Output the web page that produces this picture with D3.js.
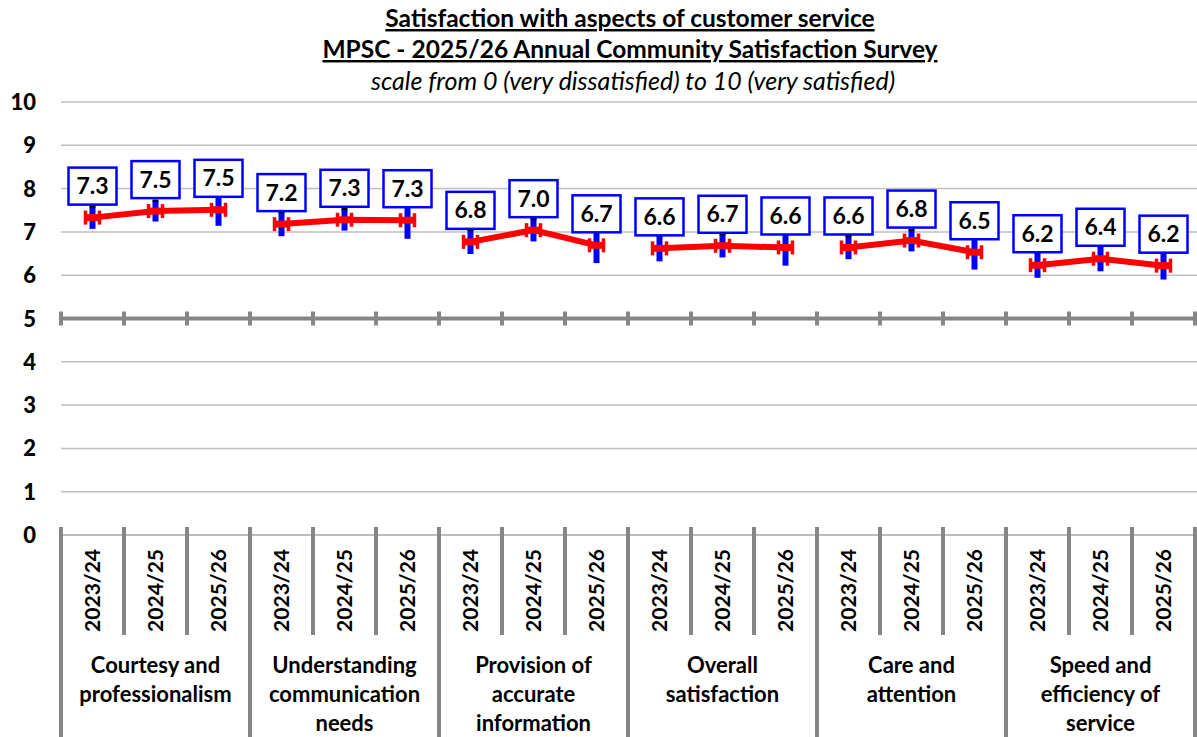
<!DOCTYPE html>
<html>
<head>
<meta charset="utf-8">
<script src="https://cdn.jsdelivr.net/npm/d3@7"></script>
<style>
  body { margin: 0; background: #fff; }
  text { font-family: Lato, "Open Sans", sans-serif; }
</style>
</head>
<body>
<div id="chart"></div>
<script>
// categories and periods
var groups = ["Courtesy and professionalism", "Understanding communication needs",
    "Provision of accurate information", "Overall satisfaction",
    "Care and attention", "Speed and efficiency of service"];
var groupLines = [["Courtesy and", "professionalism"],
    ["Understanding", "communication", "needs"],
    ["Provision of", "accurate", "information"],
    ["Overall", "satisfaction"],
    ["Care and", "attention"],
    ["Speed and", "efficiency of", "service"]];
var years = ["2023/24", "2024/25", "2025/26"];

// index scores, one row per group, one value per year
var scores = [
    [7.33, 7.48, 7.51],
    [7.18, 7.28, 7.27],
    [6.77, 7.04, 6.69],
    [6.62, 6.68, 6.64],
    [6.64, 6.80, 6.53],
    [6.23, 6.38, 6.22]];
// 95% confidence interval
var ciLow = [
    [7.07, 7.24, 7.14],
    [6.90, 7.03, 6.84],
    [6.49, 6.78, 6.28],
    [6.32, 6.41, 6.22],
    [6.37, 6.55, 6.13],
    [5.94, 6.09, 5.90]];
var ciHigh = [
    [7.59, 7.72, 7.88],
    [7.46, 7.53, 7.70],
    [7.05, 7.30, 7.10],
    [6.92, 6.95, 7.06],
    [6.91, 7.05, 6.93],
    [6.52, 6.67, 6.54]];
var yTicks = [0, 1, 2, 3, 4, 5, 6, 7, 8, 9, 10];

var W = 1197, H = 737;
var margin = {top: 102, left: 61, right: 2, bottom: 202};

var svg = d3.select("#chart").append("svg")
    .attr("width", W)
    .attr("height", H);

// flatten to slots
var slots = [];
groups.forEach(function(g, gi) {
    years.forEach(function(yr, yi) {
        slots.push({key: gi + "_" + yi, g: gi, year: yr, v: scores[gi][yi],
            lo: ciLow[gi][yi], hi: ciHigh[gi][yi]});
    });
});

var x = d3.scaleBand()
    .domain(slots.map(function(d) { return d.key; }))
    .range([margin.left, W - margin.right])
    .padding(0);
var y = d3.scaleLinear()
    .domain([0, 10])
    .range([H - margin.bottom, margin.top]);
var bw = x.bandwidth();
var grey = "#868686";

// gridlines
svg.append("g").selectAll("line")
    .data(yTicks.filter(function(t) { return t != 5 && t != 0; }))
    .join("line")
    .attr("x1", margin.left).attr("x2", W)
    .attr("y1", function(d) { return y(d); })
    .attr("y2", function(d) { return y(d); })
    .attr("stroke", "#c0c0c0")
    .attr("stroke-width", 1.5);

// y labels
svg.append("g").selectAll("text")
    .data(yTicks)
    .join("text")
    .attr("x", 36)
    .attr("y", function(d) { return y(d) + 8; })
    .attr("text-anchor", "end")
    .style("font-size", "22px")
    .style("font-weight", "900")
    .text(function(d) { return d; });

// bottom axis line at 0
svg.append("line")
    .attr("x1", margin.left).attr("x2", W - margin.right)
    .attr("y1", y(0)).attr("y2", y(0))
    .attr("stroke", "#a6a6a6")
    .attr("stroke-width", 1.5);

// boundaries between slots
var bounds = d3.range(slots.length + 1).map(function(i) {
    return {x: margin.left + i * bw, major: i % 3 == 0};
});
svg.append("g").selectAll("line")
    .data(bounds)
    .join("line")
    .attr("x1", function(d) { return d.x; })
    .attr("x2", function(d) { return d.x; })
    .attr("y1", y(0) - 8)
    .attr("y2", function(d) { return d.major ? H : 635; })
    .attr("stroke", grey)
    .attr("stroke-width", 4);

// axis crossing at 5
svg.append("line")
    .attr("x1", margin.left).attr("x2", W - margin.right)
    .attr("y1", y(5)).attr("y2", y(5))
    .attr("stroke", grey)
    .attr("stroke-width", 4);
svg.append("g").selectAll("line")
    .data(bounds)
    .join("line")
    .attr("x1", function(d) { return d.x; })
    .attr("x2", function(d) { return d.x; })
    .attr("y1", y(5) - 7)
    .attr("y2", y(5) + 7)
    .attr("stroke", grey)
    .attr("stroke-width", 4);

// year labels, rotated
svg.append("g").selectAll("text")
    .data(slots)
    .join("text")
    .attr("transform", function(d) {
        return "translate(" + (x(d.key) + bw / 2 + 7.5) + ",549) rotate(-90)";
    })
    .attr("text-anchor", "end")
    .style("font-size", "21px")
    .style("font-weight", "bold")
    .text(function(d) { return d.year; });

// group labels
var gl = svg.append("g").selectAll("text")
    .data(groupLines)
    .join("text")
    .attr("text-anchor", "middle")
    .style("font-size", "22px")
    .style("font-weight", "bold");
gl.each(function(lines, gi) {
    var cx = margin.left + (gi * 3 + 1.5) * bw;
    d3.select(this).selectAll("tspan")
        .data(lines)
        .join("tspan")
        .attr("x", cx)
        .attr("y", function(d, i) { return 673 + i * 29; })
        .text(function(d) { return d; });
});

// blue confidence bars
svg.append("g").selectAll("line")
    .data(slots)
    .join("line")
    .attr("x1", function(d) { return x(d.key) + bw / 2; })
    .attr("x2", function(d) { return x(d.key) + bw / 2; })
    .attr("y1", function(d) { return y(d.hi); })
    .attr("y2", function(d) { return y(d.lo); })
    .attr("stroke", "#0000ff")
    .attr("stroke-width", 6);
svg.append("g").selectAll("line")
    .data(slots)
    .join("line")
    .attr("x1", function(d) { return x(d.key) + bw / 2 - 3; })
    .attr("x2", function(d) { return x(d.key) + bw / 2 + 3; })
    .attr("y1", function(d) { return y(d.hi); })
    .attr("y2", function(d) { return y(d.hi); })
    .attr("stroke", "#000")
    .attr("stroke-width", 2.5);

// red lines, one per group
var line = d3.line()
    .x(function(d) { return x(d.key) + bw / 2; })
    .y(function(d) { return y(d.v); });
svg.append("g").selectAll("path")
    .data(groups.map(function(g, gi) {
        return slots.filter(function(s) { return s.g == gi; });
    }))
    .join("path")
    .attr("fill", "none")
    .attr("stroke", "#ff0000")
    .attr("stroke-width", 6)
    .attr("d", line);

// red markers (dash with end caps)
var mk = svg.append("g").selectAll("g")
    .data(slots)
    .join("g")
    .attr("transform", function(d) {
        return "translate(" + (x(d.key) + bw / 2) + "," + y(d.v) + ")";
    });
mk.append("line")
    .attr("x1", -7).attr("x2", 7)
    .attr("stroke", "#ff0000").attr("stroke-width", 7);
mk.append("line")
    .attr("x1", -7).attr("x2", -7).attr("y1", -7).attr("y2", 7)
    .attr("stroke", "#ff0000").attr("stroke-width", 3.5);
mk.append("line")
    .attr("x1", 7).attr("x2", 7).attr("y1", -7).attr("y2", 7)
    .attr("stroke", "#ff0000").attr("stroke-width", 3.5);

// data label boxes
var lb = svg.append("g").selectAll("g")
    .data(slots)
    .join("g")
    .attr("transform", function(d) {
        return "translate(" + (x(d.key) + bw / 2) + "," + (y(d.v) - 13) + ")";
    });
lb.append("rect")
    .attr("x", -24).attr("y", -37)
    .attr("width", 48).attr("height", 37)
    .attr("fill", "#fff")
    .attr("stroke", "#0000ff")
    .attr("stroke-width", 2.5);
lb.append("text")
    .attr("y", -10.5)
    .attr("text-anchor", "middle")
    .style("font-size", "23px")
    .style("font-weight", "bold")
    .text(function(d) { return d.v.toFixed(1); });

// titles
var cx = 630;
svg.append("text")
    .attr("x", cx).attr("y", 27)
    .attr("text-anchor", "middle")
    .style("font-size", "24.5px")
    .style("font-weight", "bold")
    .style("text-decoration", "underline")
    .text("Satisfaction with aspects of customer service");
svg.append("text")
    .attr("x", cx).attr("y", 58)
    .attr("text-anchor", "middle")
    .style("font-size", "24.5px")
    .style("font-weight", "bold")
    .style("text-decoration", "underline")
    .text("MPSC - 2025/26 Annual Community Satisfaction Survey");
svg.append("text")
    .attr("x", cx + 3).attr("y", 90)
    .attr("text-anchor", "middle")
    .style("font-size", "25px")
    .style("font-style", "italic")
    .text("scale from 0 (very dissatisfied) to 10 (very satisfied)");
</script>
</body>
</html>
